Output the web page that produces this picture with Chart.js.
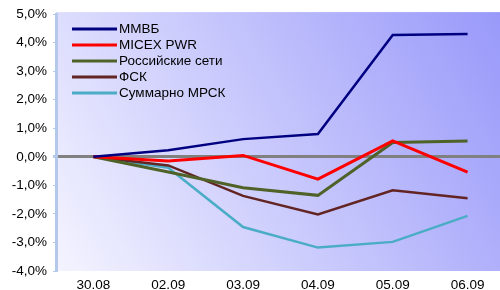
<!DOCTYPE html>
<html>
<head>
<meta charset="utf-8">
<script src="https://cdn.jsdelivr.net/npm/chart.js@4"></script>
<style>
html,body{margin:0;padding:0;background:#fff;overflow:hidden;width:500px;height:290px;}
#wrap{width:505px;height:290px;}
</style>
</head>
<body>
<div id="wrap"><canvas id="c" width="505" height="290"></canvas></div>
<script>
const categories = ['30.08', '02.09', '03.09', '04.09', '05.09', '06.09'];
const seriesNames = ['ММВБ', 'MICEX PWR', 'Российские сети', 'ФСК', 'Суммарно МРСК'];
const micex = [0, 0.23, 0.62, 0.8, 4.27, 4.3];
const micexPwr = [0, -0.15, 0.05, -0.78, 0.56, -0.54];
const rosseti = [0, -0.53, -1.08, -1.35, 0.5, 0.55];
const fsk = [0, -0.3, -1.37, -2.02, -1.17, -1.45];
const mrsk = [0, -0.38, -2.46, -3.18, -2.98, -2.07];
const yTicks = [5, 4, 3, 2, 1, 0, -1, -2, -3, -4];

const colors = ['#000080', '#ff0000', '#4f6228', '#632523', '#4bacc6'];
const widths = [2.5, 3, 3, 2.5, 2.5];
const seriesData = [micex, micexPwr, rosseti, fsk, mrsk];

const FONT = '"Liberation Sans", Arial, sans-serif';

const bgPlugin = {
  id: 'bg',
  beforeDraw(chart) {
    const {ctx, chartArea: a} = chart;
    const g = ctx.createLinearGradient(a.left, a.bottom, a.right, a.top - 2);
    g.addColorStop(0, '#f4f4ff');
    g.addColorStop(1, '#9898fa');
    ctx.save();
    ctx.fillStyle = g;
    ctx.fillRect(a.left, a.top - 2, a.right - a.left, a.bottom - a.top + 2);
    ctx.restore();
  }
};

const legendPlugin = {
  id: 'inlegend',
  afterDraw(chart) {
    const ctx = chart.ctx;
    ctx.save();
    ctx.font = '13.5px ' + FONT;
    ctx.textBaseline = 'middle';
    ctx.fillStyle = '#000';
    chart.data.datasets.forEach((ds, i) => {
      const y = 29 + i * 16;
      ctx.strokeStyle = ds.borderColor;
      ctx.lineWidth = 3;
      ctx.beginPath();
      ctx.moveTo(72, y);
      ctx.lineTo(117, y);
      ctx.stroke();
      ctx.fillText(ds.label, 119, y + 0.5);
    });
    ctx.restore();
  }
};

new Chart(document.getElementById('c'), {
  type: 'line',
  data: {
    labels: categories,
    datasets: seriesNames.map((n, i) => ({
      label: n,
      data: seriesData[i],
      borderColor: colors[i],
      backgroundColor: colors[i],
      borderWidth: widths[i],
      pointRadius: 0,
      tension: 0,
      fill: false
    }))
  },
  options: {
    responsive: false,
    animation: false,
    layout: {padding: {top: 14, right: 0, bottom: 0, left: 0}},
    plugins: {legend: {display: false}, tooltip: {enabled: false}},
    scales: {
      x: {
        type: 'category',
        offset: true,
        grid: {display: false, drawTicks: false, offset: true},
        border: {display: false},
        ticks: {font: {family: FONT, size: 13.5}, color: '#000', padding: 6, maxRotation: 0, autoSkip: false},
        afterFit(s) { s.height = 19; }
      },
      y: {
        min: -4, max: 5,
        afterBuildTicks(s) { s.ticks = yTicks.map(v => ({value: v})); },
        ticks: {
          font: {family: FONT, size: 13.5}, color: '#000', padding: 6,
          callback: v => v.toFixed(1).replace('.', ',') + '%'
        },
        grid: {
          drawTicks: true, tickLength: 3,
          tickColor: '#b4c8ec',
          color: c => (c.tick && c.tick.value === 0) ? '#808080' : 'rgba(0,0,0,0)',
          lineWidth: c => (c.tick && c.tick.value === 0) ? 3 : 1
        },
        border: {display: true, color: '#b4c8ec', width: 3},
        afterFit(s) { s.width = 56; }
      }
    }
  },
  plugins: [bgPlugin, legendPlugin]
});
</script>
</body>
</html>
